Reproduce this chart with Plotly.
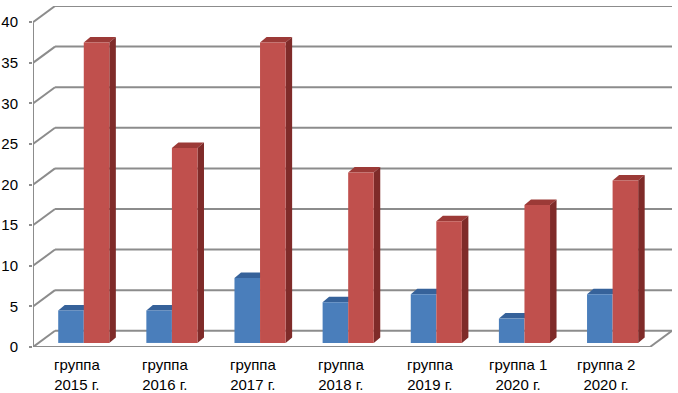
import plotly.graph_objects as go

cat_line1 = ["группа", "группа", "группа", "группа", "группа", "группа 1", "группа 2"]
cat_line2 = ["2015 г.", "2016 г.", "2017 г.", "2018 г.", "2019 г.", "2020 г.", "2020 г."]
blue_values = [4, 4, 8, 5, 6, 3, 6]
red_values = [37, 24, 37, 21, 15, 17, 20]
y_ticks = [0, 5, 10, 15, 20, 25, 30, 35, 40]

# pseudo-3D geometry (data units)
DX, DY = 0.25, 2.0        # floor / wall depth
BZ = 0.5                  # bars sit slightly behind the front edge
SX = 0.076                # horizontal shift from depth
W = 0.29                  # bar width
BDX, BDY = 0.074, 0.68    # bar depth
N = len(cat_line1)

BLUE, BLUE_TOP = "#4a7ebb", "#36629a"
RED, RED_TOP, RED_SIDE = "#c0504d", "#9c3a37", "#7f2b29"
GRID = "#8c8c8c"

fig = go.Figure()
shapes = []

def line(x0, y0, x1, y1, w=2):
    shapes.append(dict(type="line", x0=x0, y0=y0, x1=x1, y1=y1, xref="x", yref="y",
                       line=dict(color=GRID, width=w), layer="below"))

# back wall gridlines and left wall diagonals
for v in y_ticks:
    line(DX, v + DY, N + DX, v + DY)
    line(0, v, DX, v + DY)
# front axis and floor edges
line(0, 0, 0, y_ticks[-1], 2)
line(0, 0, N, 0, 2)
line(N, 0, N + DX, DY, 2)

def poly(pts, color):
    path = "M " + " L ".join(f"{x},{y}" for x, y in pts) + " Z"
    shapes.append(dict(type="path", path=path, xref="x", yref="y",
                       fillcolor=color, line=dict(width=0), layer="below"))

blue_x = [i + 0.5 + SX - W / 2 for i in range(N)]
red_x = [i + 0.5 + SX + W / 2 for i in range(N)]

for xs, vals, top_c, side_c in [(blue_x, blue_values, BLUE_TOP, None), (red_x, red_values, RED_TOP, RED_SIDE)]:
    for xc, v in zip(xs, vals):
        x0, x1 = xc - W / 2, xc + W / 2
        t = BZ + v
        poly([(x0, t), (x0 + BDX, t + BDY), (x1 + BDX, t + BDY), (x1, t)], top_c)
        if side_c:
            poly([(x1, BZ), (x1, t), (x1 + BDX, t + BDY), (x1 + BDX, BZ + BDY)], side_c)

fig.add_trace(go.Bar(x=blue_x, y=blue_values, base=BZ, width=W, marker=dict(color=BLUE, line=dict(width=0)),
                     showlegend=False, hoverinfo="skip"))
fig.add_trace(go.Bar(x=red_x, y=red_values, base=BZ, width=W, marker=dict(color=RED, line=dict(width=0)),
                     showlegend=False, hoverinfo="skip"))

annotations = []
for i, (a, b) in enumerate(zip(cat_line1, cat_line2)):
    annotations.append(dict(x=i + 0.5, y=0, xref="x", yref="paper", text=f"{a}<br>{b}", showarrow=False,
                            yanchor="middle", yshift=-27, font=dict(size=15)))

fig.update_layout(
    width=678, height=393,
    margin=dict(l=33, r=6, t=6, b=46),
    paper_bgcolor="white", plot_bgcolor="white",
    barmode="overlay",
    shapes=shapes,
    annotations=annotations,
    font=dict(family="Liberation Sans, Arial, sans-serif", color="#000000"),
    xaxis=dict(range=[0, N + DX], showticklabels=False,
               showgrid=False, zeroline=False, showline=False, ticks="", automargin=False,
               minor=dict(tick0=0, dtick=1, ticks="outside", ticklen=4, tickcolor=GRID, tickwidth=2)),
    yaxis=dict(range=[0, 42], tickvals=y_ticks, showgrid=False, zeroline=False, showline=False,
               automargin=False, ticklabelstandoff=8,
               ticks="outside", ticklen=3, tickcolor=GRID, tickwidth=2, tickfont=dict(size=15)),
)

fig.write_html("out.html", config={"displayModeBar": False},
               post_script="document.body.style.margin='0';document.body.style.overflow='hidden';")
